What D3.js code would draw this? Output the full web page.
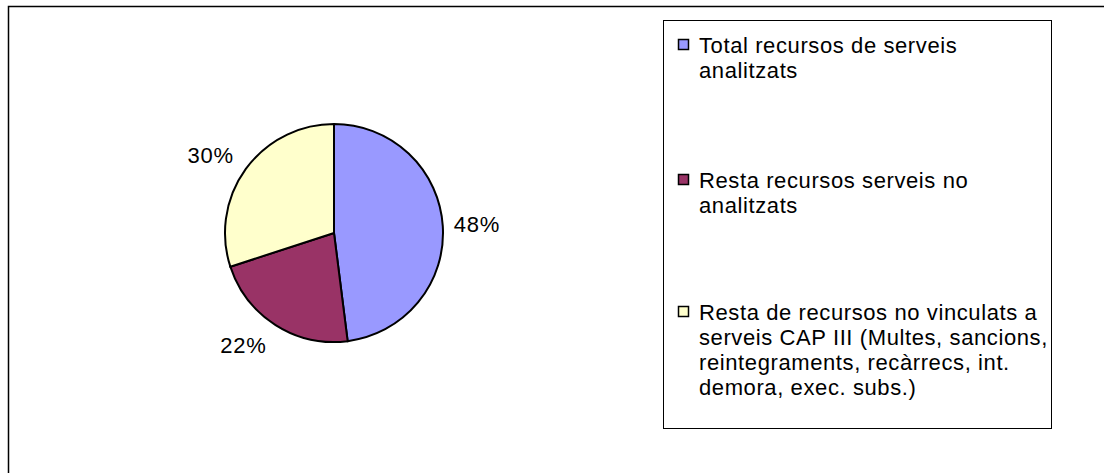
<!DOCTYPE html>
<html>
<head>
<meta charset="utf-8">
<script src="https://cdn.jsdelivr.net/npm/d3@7"></script>
<style>
  body { margin: 0; background: #fff; }
  svg text { font-family: "Liberation Sans", Arial, sans-serif; fill: #000; }
</style>
</head>
<body>
<svg id="chart" width="1104" height="473"></svg>
<script>
// data
let categories = ["Total recursos de serveis analitzats",
                  "Resta recursos serveis no analitzats",
                  "Resta de recursos no vinculats a serveis CAP III (Multes, sancions, reintegraments, recàrrecs, int. demora, exec. subs.)"]
let values = [48, 22, 30]
let colors = ["#9999ff", "#993366", "#ffffcc"]
let legendLines = [
  ["Total recursos de serveis", "analitzats"],
  ["Resta recursos serveis no", "analitzats"],
  ["Resta de recursos no vinculats a", "serveis CAP III (Multes, sancions,", "reintegraments, recàrrecs, int.", "demora, exec. subs.)"]
]

let width = 1104, height = 473
let cx = 334, cy = 233, radius = 109
let fontSize = "22px"

let svg = d3.select("#chart")

// outer frame
svg.append("rect")
  .attr("x", 8.5).attr("y", 6.5)
  .attr("width", 1110).attr("height", 480)
  .style("fill", "none")
  .style("stroke", "#000")
  .style("stroke-width", 1.5)

let pie = d3.pie().sort(null).value(d => d)
let arcs = pie(values)
let arc = d3.arc().innerRadius(0).outerRadius(radius)
let labelR = radius + 11

let g = svg.append("g").attr("transform", "translate(" + cx + "," + cy + ")")

g.selectAll(".slice")
  .data(arcs)
  .enter()
  .append("path")
  .attr("class", "slice")
  .attr("d", arc)
  .style("fill", (d, i) => colors[i])
  .style("stroke", "#000")
  .style("stroke-width", 2)

// percent labels, placed just outside the rim
function mid(d) { return (d.startAngle + d.endAngle) / 2 }

g.selectAll(".pct")
  .data(arcs)
  .enter()
  .append("text")
  .attr("class", "pct")
  .attr("x", d => labelR * Math.sin(mid(d)) - (Math.sin(mid(d)) < 0 ? 3 : 0))
  .attr("y", d => -labelR * Math.cos(mid(d)) - 13 * Math.cos(mid(d)))
  .attr("dy", "0.35em")
  .style("text-anchor", d => Math.sin(mid(d)) >= 0 ? "start" : "end")
  .style("font-size", fontSize)
  .style("letter-spacing", "0.8px")
  .text(d => d.data + "%")

// legend
svg.append("rect")
  .attr("x", 663.5).attr("y", 20.5)
  .attr("width", 388).attr("height", 408)
  .style("fill", "#fff")
  .style("stroke", "#000")
  .style("stroke-width", 1)

let itemTops = [45, 180, 312]
let lineHeight = 25

let items = svg.append("g").selectAll(".legend_item")
  .data(categories)
  .enter()
  .append("g")
  .attr("class", "legend_item")

items.append("rect")
  .attr("x", 678.5)
  .attr("y", (d, i) => itemTops[i] - 5.5)
  .attr("width", 10)
  .attr("height", 10)
  .style("fill", (d, i) => colors[i])
  .style("stroke", "#000")
  .style("stroke-width", 1.5)

items.each(function(d, i) {
  d3.select(this).selectAll("text")
    .data(legendLines[i])
    .enter()
    .append("text")
    .attr("x", 699)
    .attr("y", (t, j) => itemTops[i] + j * lineHeight)
    .attr("dy", "0.35em")
    .style("font-size", fontSize)
    .style("letter-spacing", "0.6px")
    .text(t => t)
})
</script>
</body>
</html>
